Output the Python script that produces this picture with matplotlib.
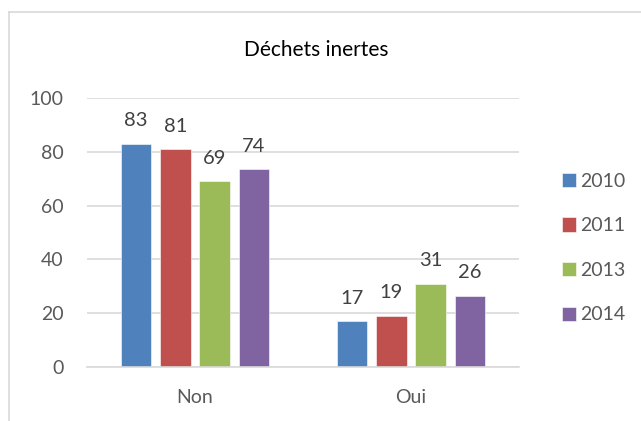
import matplotlib
matplotlib.use('Agg')
import matplotlib.pyplot as plt
import numpy as np

plt.rcParams['font.family'] = ['Lato', 'DejaVu Sans']

categories = ['Non', 'Oui']
years = ['2010', '2011', '2013', '2014']
values = {
    '2010': [83, 17],
    '2011': [81, 19],
    '2013': [69, 31],
    '2014': [73.5, 26.5],
}
labels = {
    '2010': ['83', '17'],
    '2011': ['81', '19'],
    '2013': ['69', '31'],
    '2014': ['74', '26'],
}
colors = ['#4F81BD', '#C0504D', '#9BBB59', '#8064A2']
text_color = '#595959'
grid_color = '#D9D9D9'

fig = plt.figure(figsize=(6.41, 4.21), dpi=100)
ax = fig.add_axes([87 / 641, 1 - 367 / 421, 432 / 641, 269 / 421])

# chart area border (only left and top visible, rest is cut off)
fig.add_artist(plt.Line2D([9 / 641, 9 / 641], [0, 1 - 12 / 421], transform=fig.transFigure,
                          color=grid_color, lw=1.2))
fig.add_artist(plt.Line2D([9 / 641, 1], [1 - 12 / 421, 1 - 12 / 421], transform=fig.transFigure,
                          color=grid_color, lw=1.2))

x = np.arange(len(categories))
step = 0.182
width = 0.142
for i, year in enumerate(years):
    pos = x + (i - 1.5) * step
    bars = ax.bar(pos, values[year], width, color=colors[i], label=year,
                  edgecolor='white', linewidth=0.4, zorder=3)
    for b, lab in zip(bars, labels[year]):
        ax.annotate(lab, (b.get_x() + b.get_width() / 2, b.get_height()),
                    xytext=(0, 10.5), textcoords='offset points',
                    ha='center', va='bottom', fontsize=14.5, color='#404040')

ax.set_xlim(-0.5, 1.5)
ax.set_ylim(0, 100)
ax.set_yticks([0, 20, 40, 60, 80, 100])
ax.set_xticks(x)
ax.set_xticklabels(categories)
ax.tick_params(length=0, labelsize=14, labelcolor=text_color)
ax.tick_params(axis='y', pad=17)
ax.tick_params(axis='x', pad=16)
ax.yaxis.grid(True, color=grid_color, lw=1.2, zorder=0)
for s in ['top', 'right', 'left']:
    ax.spines[s].set_visible(False)
ax.spines['bottom'].set_color(grid_color)
ax.spines['bottom'].set_linewidth(1.2)
ax.spines['bottom'].set_zorder(4)

fig.text(316 / 641, 1 - 50 / 421, 'Déchets inertes', ha='center', va='center',
         fontsize=15, color='black')

fig.legend(loc='center left', bbox_to_anchor=(544 / 641, 1 - 248 / 421), frameon=False,
           fontsize=14, labelcolor=text_color, handlelength=0.75, handleheight=0.75,
           handletextpad=0.2, labelspacing=1.42)

fig.savefig('out.png', dpi=100)
